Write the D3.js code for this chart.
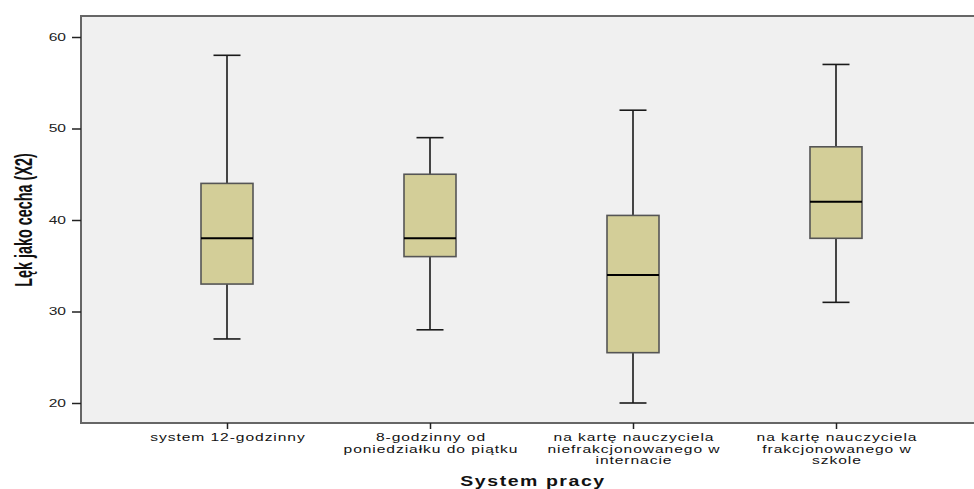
<!DOCTYPE html>
<html>
<head>
<meta charset="utf-8">
<script src="https://cdn.jsdelivr.net/npm/d3@7"></script>
<style>
  body { margin: 0; background: #fff; }
  svg { display: block; }
</style>
</head>
<body>
<div id="chart"></div>
<script>
// categories (each label split into its lines)
const categories = ["sys12", "8h", "netto", "frak"];
const categoryLabels = [
    ["system 12-godzinny"],
    ["8-godzinny od", "poniedziałku do piątku"],
    ["na kartę nauczyciela", "niefrakcjonowanego w", "internacie"],
    ["na kartę nauczyciela", "frakcjonowanego w", "szkole"]
];
// box plot statistics
const whiskerLow  = [27, 28, 20, 31];
const q1          = [33, 36, 25.5, 38];
const medians     = [38, 38, 34, 42];
const q3          = [44, 45, 40.5, 48];
const whiskerHigh = [58, 49, 52, 57];
const yTicks = [20, 30, 40, 50, 60];

const W = 974, H = 489;
const plot = { left: 81, right: 974, top: 16, bottom: 423 };
const labelFont = "'Liberation Sans', Arial, sans-serif";
const stretch = 1.56; // tick text in the original is stretched sideways

const svg = d3.select("#chart").append("svg")
    .attr("width", W)
    .attr("height", H);

const y = d3.scaleLinear()
    .domain([20, 60])
    .range([403, 37]);

const x = d3.scalePoint()
    .domain(categories)
    .range([227, 836]);

// plot background
svg.append("rect")
    .attr("x", plot.left)
    .attr("y", plot.top)
    .attr("width", plot.right - plot.left)
    .attr("height", plot.bottom - plot.top)
    .attr("fill", "#f0f0f0");

const boxes = categories.map((c, i) => ({
    cat: c, lo: whiskerLow[i], q1: q1[i], med: medians[i], q3: q3[i], hi: whiskerHigh[i]
}));

const boxW = 52, capW = 27;
const g = svg.selectAll(".box").data(boxes).enter().append("g").attr("class", "box");

// whiskers
g.append("line")
    .attr("x1", d => x(d.cat)).attr("x2", d => x(d.cat))
    .attr("y1", d => y(d.hi)).attr("y2", d => y(d.q3))
    .attr("stroke", "#1a1a1a").attr("stroke-width", 1.6);
g.append("line")
    .attr("x1", d => x(d.cat)).attr("x2", d => x(d.cat))
    .attr("y1", d => y(d.q1)).attr("y2", d => y(d.lo))
    .attr("stroke", "#1a1a1a").attr("stroke-width", 1.6);
g.append("line")
    .attr("x1", d => x(d.cat) - capW / 2).attr("x2", d => x(d.cat) + capW / 2)
    .attr("y1", d => y(d.hi)).attr("y2", d => y(d.hi))
    .attr("stroke", "#1a1a1a").attr("stroke-width", 1.6);
g.append("line")
    .attr("x1", d => x(d.cat) - capW / 2).attr("x2", d => x(d.cat) + capW / 2)
    .attr("y1", d => y(d.lo)).attr("y2", d => y(d.lo))
    .attr("stroke", "#1a1a1a").attr("stroke-width", 1.6);

// boxes
g.append("rect")
    .attr("x", d => x(d.cat) - boxW / 2)
    .attr("y", d => y(d.q3))
    .attr("width", boxW)
    .attr("height", d => y(d.q1) - y(d.q3))
    .attr("fill", "#d3ce98")
    .attr("stroke", "#555")
    .attr("stroke-width", 1.6);

// medians
g.append("line")
    .attr("x1", d => x(d.cat) - boxW / 2).attr("x2", d => x(d.cat) + boxW / 2)
    .attr("y1", d => y(d.med)).attr("y2", d => y(d.med))
    .attr("stroke", "#000").attr("stroke-width", 2);

// frame (top, left, bottom)
svg.append("path")
    .attr("d", `M${plot.right},${plot.top}H${plot.left}V${plot.bottom}H${plot.right}`)
    .attr("fill", "none")
    .attr("stroke", "#666")
    .attr("stroke-width", 2);

// y axis ticks
const yAxis = svg.append("g").attr("transform", `translate(${plot.left},0)`)
    .call(d3.axisLeft(y).tickValues(yTicks).tickSize(9).tickPadding(4));
yAxis.select(".domain").remove();
yAxis.selectAll(".tick line").attr("stroke", "#222").attr("stroke-width", 1.5);
yAxis.selectAll(".tick text")
    .attr("x", -15 / stretch)
    .attr("transform", `scale(${stretch},1)`)
    .attr("font-family", labelFont)
    .attr("font-size", 10)
    .attr("fill", "#222");

// x axis ticks
const xAxis = svg.append("g").attr("transform", `translate(0,${plot.bottom})`)
    .call(d3.axisBottom(x).tickSize(6).tickFormat(""));
xAxis.select(".domain").remove();
xAxis.selectAll(".tick line").attr("stroke", "#222").attr("stroke-width", 1.5);

xAxis.selectAll(".tick").each(function(d, i) {
    const t = d3.select(this).append("text")
        .attr("transform", `scale(${stretch},1)`)
        .attr("text-anchor", "middle")
        .attr("font-family", labelFont)
        .attr("font-size", 10)
        .attr("letter-spacing", "0.6px")
        .attr("fill", "#111");
    categoryLabels[i].forEach((line, k) => {
        t.append("tspan").attr("x", 0.3).attr("y", 18 + k * 11.6).text(line);
    });
});

// axis titles
svg.append("text")
    .attr("transform", "translate(533,486) scale(1.3,1)")
    .attr("text-anchor", "middle")
    .attr("font-family", labelFont)
    .attr("font-weight", "bold")
    .attr("font-size", 15)
    .attr("letter-spacing", "1.2px")
    .attr("fill", "#111")
    .text("System pracy");

svg.append("text")
    .attr("transform", "translate(32,220) rotate(-90) scale(0.6,1)")
    .attr("text-anchor", "middle")
    .attr("font-family", labelFont)
    .attr("font-weight", "bold")
    .attr("font-size", 24)
    .attr("fill", "#111")
    .text("Lęk jako cecha (X2)");
</script>
</body>
</html>
